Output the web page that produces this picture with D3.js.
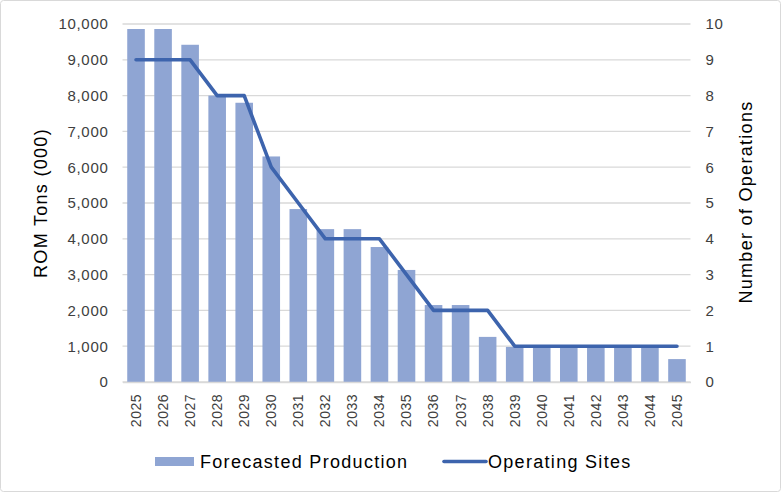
<!DOCTYPE html>
<html><head><meta charset="utf-8">
<script src="https://cdn.jsdelivr.net/npm/d3@7"></script>
<style>
html,body{margin:0;padding:0;background:#fff;}
svg{display:block;font-family:"Liberation Sans",Arial,sans-serif;}
</style></head>
<body>
<svg id="chart" width="781" height="492"></svg>
<script>
const years = ["2025","2026","2027","2028","2029","2030","2031","2032","2033","2034","2035","2036","2037","2038","2039","2040","2041","2042","2043","2044","2045"];
const production = [9860,9860,9420,8000,7800,6300,4830,4270,4270,3770,3130,2150,2150,1260,980,980,980,980,980,980,640];
const sites = [9,9,9,8,8,6,5,4,4,4,3,2,2,2,1,1,1,1,1,1,1];
const leftTicks = [0,1000,2000,3000,4000,5000,6000,7000,8000,9000,10000];
const rightTicks = [0,1,2,3,4,5,6,7,8,9,10];

const svg = d3.select("#chart");
svg.append("rect").attr("x",0.5).attr("y",0.5).attr("width",780).attr("height",491)
  .attr("fill","#fff").attr("stroke","#d9d9d9").attr("rx",3);

const pL = 122.5, pR = 690.5, pT = 24, pB = 382;
const x = d3.scaleBand().domain(years).range([pL,pR]).paddingInner(0.35).paddingOuter(0.175);
const yL = d3.scaleLinear().domain([0,10000]).range([pB,pT]);
const yR = d3.scaleLinear().domain([0,10]).range([pB,pT]);

// gridlines
svg.append("g").selectAll("line").data(leftTicks).join("line")
  .attr("x1",pL).attr("x2",pR)
  .attr("y1",d=>yL(d)).attr("y2",d=>yL(d))
  .attr("stroke","#d9d9d9").attr("stroke-width",1.3);

// bars
svg.append("g").selectAll("rect").data(years).join("rect")
  .attr("x",d=>x(d)).attr("width",x.bandwidth())
  .attr("y",(d,i)=>yL(production[i])).attr("height",(d,i)=>pB-yL(production[i]))
  .attr("fill","#8fa5d3");

// line
const line = d3.line().x((d,i)=>x(years[i])+x.bandwidth()/2).y(d=>yR(d));
svg.append("path").datum(sites).attr("d",line)
  .attr("fill","none").attr("stroke","#3d64ad").attr("stroke-width",3.6)
  .attr("stroke-linejoin","round").attr("stroke-linecap","round");

const FF = "Liberation Sans, Arial, sans-serif";
// left axis
const axL = svg.append("g").attr("transform",`translate(${pL-14},0)`)
  .call(d3.axisLeft(yL).tickValues(leftTicks).tickFormat(d3.format(",")).tickSize(0).tickPadding(0));
axL.select(".domain").remove();
axL.selectAll("text").attr("font-size",15).attr("letter-spacing",0.7).attr("fill","#404040").attr("font-family",FF);

// right axis
const axR = svg.append("g").attr("transform",`translate(${pR+15},0)`)
  .call(d3.axisRight(yR).tickValues(rightTicks).tickFormat(d3.format("d")).tickSize(0).tickPadding(0));
axR.select(".domain").remove();
axR.selectAll("text").attr("font-size",15).attr("letter-spacing",0.7).attr("fill","#404040").attr("font-family",FF);

// x axis
const axX = svg.append("g").attr("transform",`translate(0,${pB})`)
  .call(d3.axisBottom(x).tickSize(0).tickPadding(0));
axX.select(".domain").attr("stroke","#d9d9d9").attr("stroke-width",1.3);
axX.selectAll("text").attr("font-size",14).attr("letter-spacing",0.5).attr("fill","#404040")
  .attr("font-family",FF)
  .attr("transform","rotate(-90)").attr("text-anchor","end")
  .attr("x",-12).attr("y",0).attr("dy","0.35em");

// axis titles
svg.append("text").attr("transform","translate(47,203) rotate(-90)")
  .attr("text-anchor","middle").attr("font-size",18).attr("letter-spacing",1.3).attr("fill","#000").text("ROM Tons (000)");
svg.append("text").attr("transform","translate(752,202) rotate(-90)")
  .attr("text-anchor","middle").attr("font-size",18).attr("letter-spacing",1.3).attr("fill","#000").text("Number of Operations");

// legend
const lg = svg.append("g");
lg.append("rect").attr("x",155).attr("y",457).attr("width",39).attr("height",9).attr("fill","#8fa5d3");
lg.append("text").attr("x",200).attr("y",468).attr("font-size",18).attr("letter-spacing",1.3).attr("fill","#000").text("Forecasted Production");
lg.append("line").attr("x1",444).attr("x2",486).attr("y1",461.5).attr("y2",461.5)
  .attr("stroke","#3d64ad").attr("stroke-width",3.6).attr("stroke-linecap","round");
lg.append("text").attr("x",488).attr("y",468).attr("font-size",18).attr("letter-spacing",1.3).attr("fill","#000").text("Operating Sites");
</script>
</body></html>
